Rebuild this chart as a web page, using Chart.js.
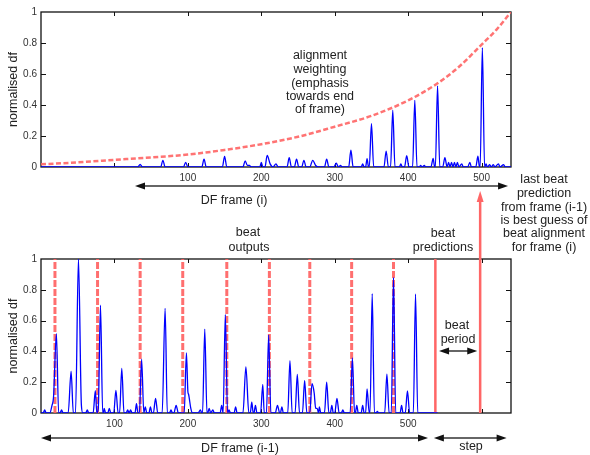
<!DOCTYPE html>
<html>
<head>
<meta charset="utf-8">
<script src="https://cdn.jsdelivr.net/npm/chart.js@4"></script>
<style>
  body { margin: 0; background: #fff; }
  #wrap { position: relative; width: 590px; height: 455px; overflow: hidden; font-family: "Liberation Sans", Arial, Helvetica, sans-serif; }
  #wrap canvas { position: absolute; left: 0; }
  .lbl { position: absolute; transform: translate(-50%, -50%); white-space: nowrap; font-size: 12.5px; line-height: 1; color: #222; }
</style>
</head>
<body>
<div id="wrap">
  <canvas id="topChart" width="590" height="200" style="top:0"></canvas>
  <canvas id="bottomChart" width="590" height="285" style="top:170px"></canvas>
</div>
<script>
// x tick labels shown on both frames
const tickLabels = [100, 200, 300, 400, 500];

// DF frame (i): weighted onset detection function
const curFrames = [-100, 32, 35, 38, 63, 66, 69, 94, 97, 100, 119, 122, 125, 147, 150, 153, 175, 178, 181, 184, 186,
  198, 200, 202, 205, 208, 212, 216, 220, 223, 235, 238, 241, 245, 248, 251, 255, 258, 261, 266, 270, 274, 278,
  286, 289, 292, 299, 302, 305, 308, 310, 319, 322, 325, 336, 338, 340, 342, 344, 346, 347, 350, 353, 367, 370, 373,
  376, 379, 382, 388, 390, 392, 395, 398, 401, 406, 409, 412, 415, 417, 419, 422, 424, 431, 434, 436, 437, 440, 443,
  447, 450, 453, 455, 457, 459, 461, 463, 465, 467, 469, 473, 475, 481, 484, 486, 492, 495, 497, 498, 501, 504,
  506, 508, 511, 513, 516, 518, 523, 525, 530, 532, 540];
const curValues = [0, 0, 0.017, 0, 0, 0.043, 0, 0, 0.03, 0, 0, 0.05, 0, 0, 0.069, 0, 0, 0.04, 0.01, 0.01, 0,
  0, 0.03, 0, 0, 0.075, 0.02, 0, 0.02, 0, 0, 0.06, 0, 0, 0.05, 0, 0, 0.043, 0, 0, 0.043, 0.01, 0,
  0, 0.05, 0, 0, 0.025, 0, 0.01, 0, 0, 0.108, 0, 0, 0.02, 0, 0, 0.054, 0, 0, 0.28, 0, 0, 0.103, 0,
  0, 0.366, 0, 0, 0.02, 0, 0, 0.073, 0, 0, 0.43, 0, 0, 0.01, 0, 0.01, 0, 0, 0.056, 0, 0, 0.524, 0,
  0, 0.06, 0, 0.03, 0, 0.03, 0, 0.03, 0, 0.03, 0, 0.02, 0, 0, 0.03, 0, 0, 0.07, 0, 0, 0.77, 0,
  0.02, 0, 0.015, 0, 0.015, 0, 0.02, 0, 0.015, 0, 0];

// alignment weighting curve
const weightFrames = [-100, -50, 0, 50, 100, 150, 200, 250, 300, 350, 400, 440, 470, 500, 520, 540];
const weightValues = [0.017, 0.03, 0.046, 0.062, 0.08, 0.11, 0.147, 0.195, 0.26, 0.33, 0.43, 0.54, 0.65, 0.79, 0.885, 1.0];

// DF frame (i-1): onset detection function
const prevFrames = [0, 3, 5, 7, 12, 15, 17, 21, 24, 26, 28, 30, 37, 41, 44, 47, 51, 55, 57, 61, 63, 65, 71, 74, 76,
  78, 81, 84, 85, 86, 88, 91, 93, 95, 99, 102, 105, 107, 110, 113, 116, 118, 120, 122, 124, 128, 130, 132, 134,
  137, 140, 142, 144, 147, 149, 151, 153, 156, 159, 165, 169, 172, 175, 177, 179, 181, 184, 187, 195, 198, 200,
  201, 204, 206, 214, 217, 219, 220, 223, 226, 227, 229, 231, 234, 236, 244, 246, 248, 251, 254, 256, 258, 263,
  265, 267, 275, 279, 283, 285, 287, 289, 290, 292, 294, 299, 302, 304, 307, 310, 313, 319, 322, 325, 326, 328,
  330, 336, 339, 342, 346, 349, 352, 356, 359, 362, 366, 369, 372, 374, 376, 378, 379, 381, 386, 389, 392, 394,
  396, 398, 400, 403, 406, 409, 411, 413, 421, 424, 427, 428, 430, 432, 436, 438, 440, 442, 444, 447, 448, 451,
  454, 456, 458, 460, 468, 471, 474, 477, 480, 483, 489, 491, 493, 496, 499, 502, 507, 510, 513, 540];
const prevValues = [0, 0, 0.02, 0, 0, 0.05, 0.1, 0.515, 0, 0, 0.02, 0, 0, 0.27, 0, 0, 1.0, 0.05, 0, 0, 0.02, 0, 0, 0.145, 0,
  0.03, 0.70, 0, 0, 0.03, 0, 0, 0.03, 0, 0, 0.147, 0, 0, 0.29, 0, 0, 0.02, 0, 0.02, 0, 0, 0.06, 0, 0,
  0.35, 0, 0.04, 0, 0, 0.04, 0, 0, 0.095, 0, 0, 0.68, 0, 0, 0.02, 0, 0, 0.05, 0, 0, 0.39, 0.14,
  0.12, 0.03, 0, 0, 0.02, 0, 0, 0.545, 0, 0, 0.03, 0, 0.02, 0, 0, 0.05, 0, 0.64, 0, 0.02, 0, 0,
  0.04, 0, 0, 0.30, 0, 0, 0.07, 0, 0, 0.05, 0, 0, 0.186, 0, 0, 0.506, 0, 0, 0.05, 0, 0, 0.04,
  0, 0, 0.34, 0, 0, 0.25, 0, 0, 0.21, 0, 0, 0.19, 0.13, 0.03, 0.03, 0, 0.04, 0, 0, 0.20, 0, 0,
  0.05, 0, 0, 0.095, 0, 0, 0.02, 0, 0, 0.357, 0, 0, 0.05, 0, 0, 0.05, 0, 0, 0.156, 0, 0, 0.775,
  0, 0, 0.01, 0, 0, 0.253, 0, 0, 0.88, 0, 0, 0.05, 0, 0, 0.143, 0, 0, 0.773, 0, 0];

// beat locations in frame (i-1)
const beatOutputs = [19, 77, 135, 193, 253, 311, 366, 423, 480];
const beatPredictions = [537, 598];

const red = "rgba(255, 95, 95, 0.9)";
const blue = "#0000ff";

function toPoints(xs, ys) {
    return xs.map((x, i) => ({ x: x, y: ys[i] }));
}

// vertical lines from 0 to 1, separated by gaps
function vLines(xs) {
    const pts = [];
    xs.forEach((x) => {
        pts.push({ x: x, y: 0 }, { x: x, y: 1 }, { x: x, y: null });
    });
    return pts;
}

function drawHead(ctx, x, y, dir, len, half) {
    ctx.beginPath();
    ctx.moveTo(x, y);
    ctx.lineTo(x - dir * len, y - half);
    ctx.lineTo(x - dir * len, y + half);
    ctx.closePath();
    ctx.fill();
}

function blackArrow(ctx, x1, x2, y) {
    ctx.save();
    ctx.strokeStyle = "#333";
    ctx.fillStyle = "#111";
    ctx.lineWidth = 1.5;
    ctx.beginPath();
    ctx.moveTo(x1 + 5, y);
    ctx.lineTo(x2 - 5, y);
    ctx.stroke();
    drawHead(ctx, x1, y, -1, 10, 3.5);
    drawHead(ctx, x2, y, 1, 10, 3.5);
    ctx.restore();
}

// box round the plot with gnuplot-style inward ticks
const framePlugin = {
    id: "frame",
    beforeDatasetsDraw(chart) {
        const { ctx, chartArea: a, scales: { x, y } } = chart;
        ctx.save();
        ctx.strokeStyle = "#111";
        ctx.lineWidth = 1.3;
        ctx.strokeRect(a.left, a.top, a.right - a.left, a.bottom - a.top);
        ctx.lineWidth = 1;
        ctx.beginPath();
        for (let v = Math.ceil(x.min / 100) * 100; v < x.max; v += 100) {
            const px = Math.round(x.getPixelForValue(v)) + 0.5;
            if (px <= a.left + 2) continue;
            ctx.moveTo(px, a.bottom); ctx.lineTo(px, a.bottom - 4);
            ctx.moveTo(px, a.top); ctx.lineTo(px, a.top + 4);
        }
        for (let i = 1; i < 5; i++) {
            const py = Math.round(y.getPixelForValue(i * 0.2)) + 0.5;
            ctx.moveTo(a.left, py); ctx.lineTo(a.left + 5, py);
            ctx.moveTo(a.right, py); ctx.lineTo(a.right - 5, py);
        }
        ctx.stroke();
        ctx.restore();
    },
    afterDraw(chart, args, opts) {
        const { ctx, chartArea: a, scales: { x } } = chart;
        (opts.spans || []).forEach((s) => {
            blackArrow(ctx, x.getPixelForValue(s[0]), x.getPixelForValue(s[1]), s[2]);
        });
        if (opts.upArrowAt !== undefined) {
            const px = x.getPixelForValue(opts.upArrowAt);
            ctx.save();
            ctx.strokeStyle = "#ff6666";
            ctx.fillStyle = "#ff6666";
            ctx.lineWidth = 2.5;
            ctx.beginPath();
            ctx.moveTo(px, a.top);
            ctx.lineTo(px, opts.upArrowTip + 8);
            ctx.stroke();
            ctx.beginPath();
            ctx.moveTo(px, opts.upArrowTip);
            ctx.lineTo(px - 3.5, opts.upArrowTip + 11);
            ctx.lineTo(px + 3.5, opts.upArrowTip + 11);
            ctx.closePath();
            ctx.fill();
            ctx.restore();
        }
    }
};

function baseOptions(xMin, xMax, padTop, xAxisHeight, frameOpts) {
    return {
        responsive: false,
        devicePixelRatio: 1,
        animation: false,
        layout: { padding: { top: padTop, right: 79, left: 0, bottom: 0 } },
        elements: { point: { radius: 0 } },
        scales: {
            x: {
                type: "linear",
                min: xMin,
                max: xMax,
                grid: { display: false, drawTicks: false },
                border: { display: false },
                afterBuildTicks: (scale) => { scale.ticks = tickLabels.map((v) => ({ value: v })); },
                afterFit: (scale) => { scale.height = xAxisHeight; },
                ticks: {
                    autoSkip: false, maxRotation: 0, padding: 5,
                    color: "#333",
                    font: { family: "'Liberation Sans', Arial, sans-serif", size: 10 }
                }
            },
            y: {
                min: 0,
                max: 1,
                grid: { display: false, drawTicks: false },
                border: { display: false },
                afterFit: (scale) => { scale.width = 41; },
                ticks: {
                    stepSize: 0.2, padding: 4,
                    color: "#333",
                    font: { family: "'Liberation Sans', Arial, sans-serif", size: 10 },
                    callback: (v) => String(Math.round(v * 10) / 10)
                },
                title: {
                    display: true,
                    text: "normalised df",
                    color: "#222",
                    padding: { top: 6, bottom: 0 },
                    font: { family: "'Liberation Sans', Arial, sans-serif", size: 12.5 }
                }
            }
        },
        plugins: {
            legend: { display: false },
            tooltip: { enabled: false },
            frame: frameOpts
        }
    };
}

new Chart(document.getElementById("topChart"), {
    type: "line",
    data: {
        datasets: [
            {
                label: "df frame (i)",
                data: toPoints(curFrames, curValues),
                borderColor: blue,
                borderWidth: 1.3,
                cubicInterpolationMode: "monotone"
            },
            {
                label: "alignment weighting",
                data: toPoints(weightFrames, weightValues),
                borderColor: "rgba(255, 100, 100, 0.9)",
                borderWidth: 2.5,
                borderDash: [5, 2.5],
                cubicInterpolationMode: "monotone"
            }
        ]
    },
    options: baseOptions(-100, 540, 12, 33, { spans: [[28, 536, 186]] }),
    plugins: [framePlugin]
});

new Chart(document.getElementById("bottomChart"), {
    type: "line",
    data: {
        datasets: [
            {
                label: "df frame (i-1)",
                data: toPoints(prevFrames, prevValues),
                borderColor: blue,
                borderWidth: 1.3,
                cubicInterpolationMode: "monotone"
            },
            {
                label: "beat outputs",
                data: vLines(beatOutputs),
                borderColor: red,
                borderWidth: 3,
                borderDash: [7, 2],
                spanGaps: false
            },
            {
                label: "beat predictions",
                data: vLines(beatPredictions),
                borderColor: "#ff6666",
                borderWidth: 2.5,
                spanGaps: false
            }
        ]
    },
    options: baseOptions(0, 640, 89, 42, {
        spans: [[0, 527, 268], [535, 634, 268], [542, 594, 181]],
        upArrowAt: beatPredictions[1],
        upArrowTip: 21
    }),
    plugins: [framePlugin]
});

// annotation text
const notes = [
    ["alignment", 320, 55], ["weighting", 320, 69], ["(emphasis", 320, 83], ["towards end", 320, 96], ["of frame)", 320, 109],
    ["last beat", 544, 179], ["prediction", 544, 193], ["from frame (i-1)", 544, 207],
    ["is best guess of", 544, 220], ["beat alignment", 544, 233], ["for frame (i)", 544, 247],
    ["DF frame (i)", 234, 200],
    ["beat", 248, 232], ["outputs", 249, 247],
    ["beat", 443, 233], ["predictions", 443, 247],
    ["beat", 457, 325], ["period", 458, 339],
    ["DF frame (i-1)", 240, 448], ["step", 471, 446]
];
const wrap = document.getElementById("wrap");
notes.forEach(([text, x, y]) => {
    const d = document.createElement("div");
    d.className = "lbl";
    d.textContent = text;
    d.style.left = x + "px";
    d.style.top = y + "px";
    wrap.appendChild(d);
});
</script>
</body>
</html>
